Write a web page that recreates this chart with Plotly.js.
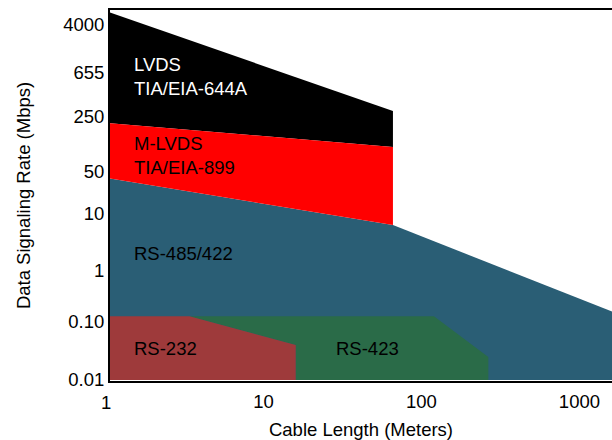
<!DOCTYPE html>
<html>
<head>
<meta charset="utf-8">
<script src="https://cdn.plot.ly/plotly-3.0.1.min.js"></script>
<style>html,body{margin:0;padding:0;background:#fff;}#chart{width:612px;height:440px;}</style>
</head>
<body>
<div id="chart"></div>
<script>
// Y tick labels (Mbps) and their positions on the (non-uniform) printed scale
const yTickValues = [0.01, 0.1, 1, 10, 50, 250, 655, 4000];
const yTickText = ["0.01", "0.10", "1", "10", "50", "250", "655", "4000"];
const yTickPos = [0, 58, 109, 166, 208, 263, 307, 355];

// X ticks (meters)
const xTickValues = [10, 100, 1000];
const xTickText = ["10", "100", "1000"];

// Regions: cable length (m) vs data rate (Mbps)
const rs485X = [1, 66, 1700, 1700, 1];
const rs485Y = [40, 6.4, 0.15, 0.01, 0.01];

const rs423X = [3.4, 120, 265, 265, 16, 16];
const rs423Y = [0.13, 0.13, 0.025, 0.01, 0.01, 0.04];

const rs232X = [1, 3.4, 16, 16, 1];
const rs232Y = [0.13, 0.13, 0.04, 0.01, 0.01];

const lvdsX = [1, 66, 66, 1];
const lvdsY = [6800, 285, 104, 210];

const mlvdsX = [1, 66, 66, 1];
const mlvdsY = [210, 104, 6.4, 40];

// piecewise-log mapping of Mbps onto the printed scale
function toPos(v) {
  const lv = Math.log10(v);
  const L = yTickValues.map(Math.log10);
  let i = 0;
  if (lv <= L[0]) i = 0;
  else if (lv >= L[L.length - 1]) i = L.length - 2;
  else { while (i < L.length - 2 && lv > L[i + 1]) i++; }
  const t = (lv - L[i]) / (L[i + 1] - L[i]);
  return yTickPos[i] + t * (yTickPos[i + 1] - yTickPos[i]);
}

function region(xs, ys, color) {
  return {
    type: "scatter", mode: "lines", fill: "toself",
    x: xs, y: ys.map(toPos),
    fillcolor: color, line: {width: 0, color: color},
    hoverinfo: "skip", showlegend: false
  };
}

const data = [
  region(rs485X, rs485Y, "#2a5e75"),
  region(rs423X, rs423Y, "#2a6b48"),
  region(rs232X, rs232Y, "#9e3a3b"),
  region(lvdsX, lvdsY, "#000000"),
  region(mlvdsX, mlvdsY, "#ff0000")
];

const font = {family: "Liberation Sans, Arial, sans-serif", size: 18.5, color: "#000"};
const L = 110, T = 10, W = 502, H = 371;
function px(x) { return (x - L) / W; }
function py(y) { return (T + H - y) / H; }
function label(text, x, y, color) {
  return {xref: "paper", yref: "paper", x: px(x), y: py(y), text: text,
    showarrow: false, xanchor: "left", yanchor: "middle", align: "left",
    font: {family: font.family, size: 18.5, color: color}};
}

const layout = {
  width: 612, height: 440,
  margin: {l: L, r: 0, t: T, b: 440 - T - H},
  paper_bgcolor: "#fff", plot_bgcolor: "#fff",
  font: font,
  showlegend: false,
  xaxis: {
    type: "log", range: [Math.log10(1.068), Math.log10(1607)],
    tickvals: xTickValues, ticktext: xTickText,
    ticks: "", showgrid: false, zeroline: false,
    showline: true, linecolor: "#000", linewidth: 2, mirror: true,
    tickfont: font, ticklabelstandoff: 3,
    title: {text: "Cable Length (Meters)", font: font, standoff: 14}
  },
  yaxis: {
    type: "linear", range: [-1, 370],
    tickvals: yTickPos, ticktext: yTickText,
    ticks: "", showgrid: false, zeroline: false,
    showline: true, linecolor: "#000", linewidth: 2,
    tickfont: font,
    title: {text: "Data Signaling Rate (Mbps)", font: font, standoff: 28}
  },
  annotations: [
    {xref: "paper", yref: "paper", x: px(105.5), y: 0, yshift: -21, text: "1",
      showarrow: false, xanchor: "center", yanchor: "middle", font: font},
    label("LVDS<br>TIA/EIA-644A", 132, 76.5, "#fff"),
    label("M-LVDS<br>TIA/EIA-899", 132, 155.5, "#000"),
    label("RS-485/422", 132, 253, "#000"),
    label("RS-232", 132, 348, "#000"),
    label("RS-423", 334, 348, "#000")
  ]
};

Plotly.newPlot("chart", data, layout, {displayModeBar: false, staticPlot: true});
</script>
</body>
</html>
